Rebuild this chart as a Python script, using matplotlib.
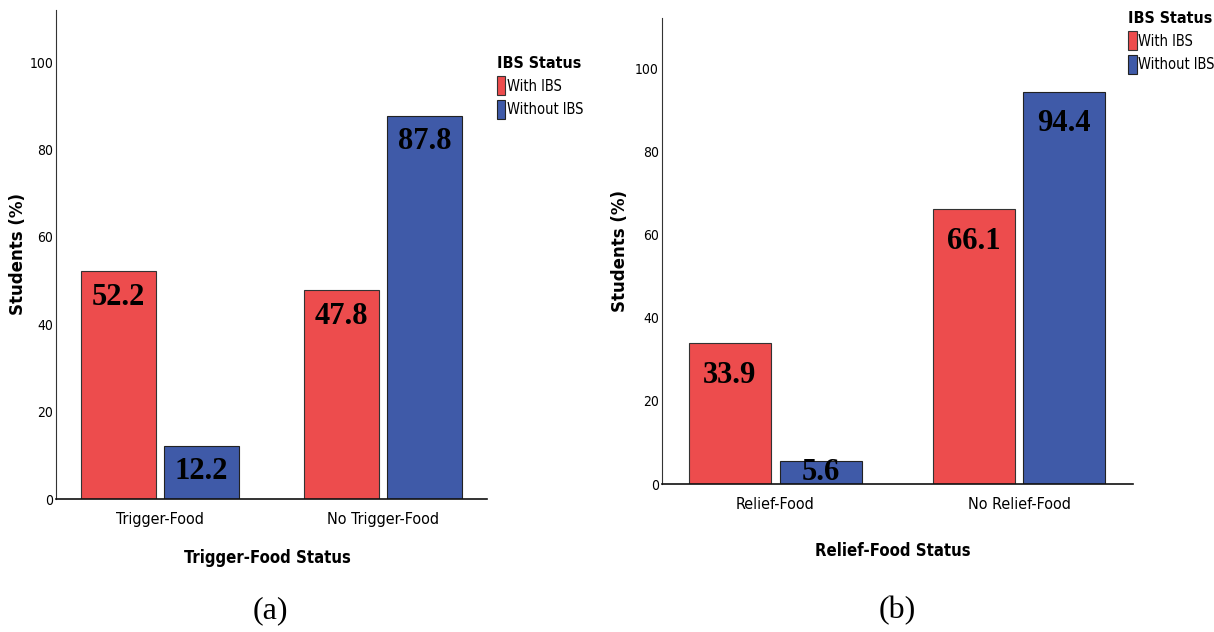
import matplotlib.pyplot as plt
import numpy as np

# panel (a)
trig_cats = ['Trigger-Food', 'No Trigger-Food']
trig_with = [52.2, 47.8]
trig_without = [12.2, 87.8]

# panel (b)
rel_cats = ['Relief-Food', 'No Relief-Food']
rel_with = [33.9, 66.1]
rel_without = [5.6, 94.4]

legend_labels = ['With IBS', 'Without IBS']
red = '#ED4C4D'
blue = '#3F5AA8'

narrow = dict(family='DejaVu Sans', stretch='condensed')
serif = ['Liberation Serif', 'DejaVu Serif']

fig = plt.figure(figsize=(12.14, 6.32), dpi=100)
ax1 = fig.add_axes([0.046, 0.2104, 0.355, 0.774])
ax2 = fig.add_axes([0.545, 0.234, 0.388, 0.737])


def draw(ax, cats, v_with, v_without, xlabel, lab_off, ylab_x, xlab_y, leg_anchor):
    x = np.arange(len(cats))
    w = 0.336
    off = 0.186
    b1 = ax.bar(x - off, v_with, w, color=red, edgecolor='#333333', linewidth=0.8, label=legend_labels[0])
    b2 = ax.bar(x + off, v_without, w, color=blue, edgecolor='#222222', linewidth=0.8, label=legend_labels[1])
    for bars, vals in [(b1, v_with), (b2, v_without)]:
        for b, v in zip(bars, vals):
            ty = max(v - lab_off, v / 2)
            ax.text(b.get_x() + b.get_width() / 2, ty, f'{v:.1f}', ha='center', va='center',
                    fontsize=22, fontweight='bold', family=serif, color='black')
    ax.set_xlim(-0.466, 1.466)
    ax.set_ylim(0, 112)
    ax.set_yticks([0, 20, 40, 60, 80, 100])
    ax.set_xticks(x)
    ax.set_xticklabels(cats, fontsize=11.5, **narrow)
    for t in ax.get_yticklabels():
        t.set_family(narrow['family'])
        t.set_stretch('condensed')
        t.set_fontsize(10)
    ax.tick_params(axis='both', length=0)
    ax.tick_params(axis='x', pad=9)
    ax.tick_params(axis='y', pad=2)
    for s in ['top', 'right']:
        ax.spines[s].set_visible(False)
    ax.spines['left'].set_color('#333333')
    ax.spines['bottom'].set_color('#111111')
    ax.spines['bottom'].set_linewidth(1.2)
    ax.set_ylabel('Students (%)', fontsize=12, fontweight='bold', family='DejaVu Sans')
    ax.yaxis.set_label_coords(ylab_x, 0.5)
    ax.set_xlabel(xlabel, fontsize=12, fontweight='bold', **narrow)
    ax.xaxis.set_label_coords(0.49, xlab_y)
    leg = ax.legend(loc='upper left', bbox_to_anchor=leg_anchor, frameon=False, title='IBS Status',
                    alignment='left', borderpad=0, borderaxespad=0, handlelength=0.6, handleheight=1.6,
                    handletextpad=0.1, labelspacing=0.35, prop=dict(size=10.5, **narrow))
    title = leg.get_title()
    title.set_fontweight('bold')
    title.set_family(narrow['family'])
    title.set_stretch('condensed')
    title.set_fontsize(11.5)


draw(ax1, trig_cats, trig_with, trig_without, 'Trigger-Food Status', 6.0, -0.067, -0.102, (1.023, 0.905))
draw(ax2, rel_cats, rel_with, rel_without, 'Relief-Food Status', 7.7, -0.070, -0.124, (0.99, 1.015))

fig.text(270 / 1214, 1 - 611 / 632, '(a)', ha='center', va='center', fontsize=23, family=serif)
fig.text(897 / 1214, 1 - 611 / 632, '(b)', ha='center', va='center', fontsize=23, family=serif)

fig.savefig('out.png', dpi=100)
